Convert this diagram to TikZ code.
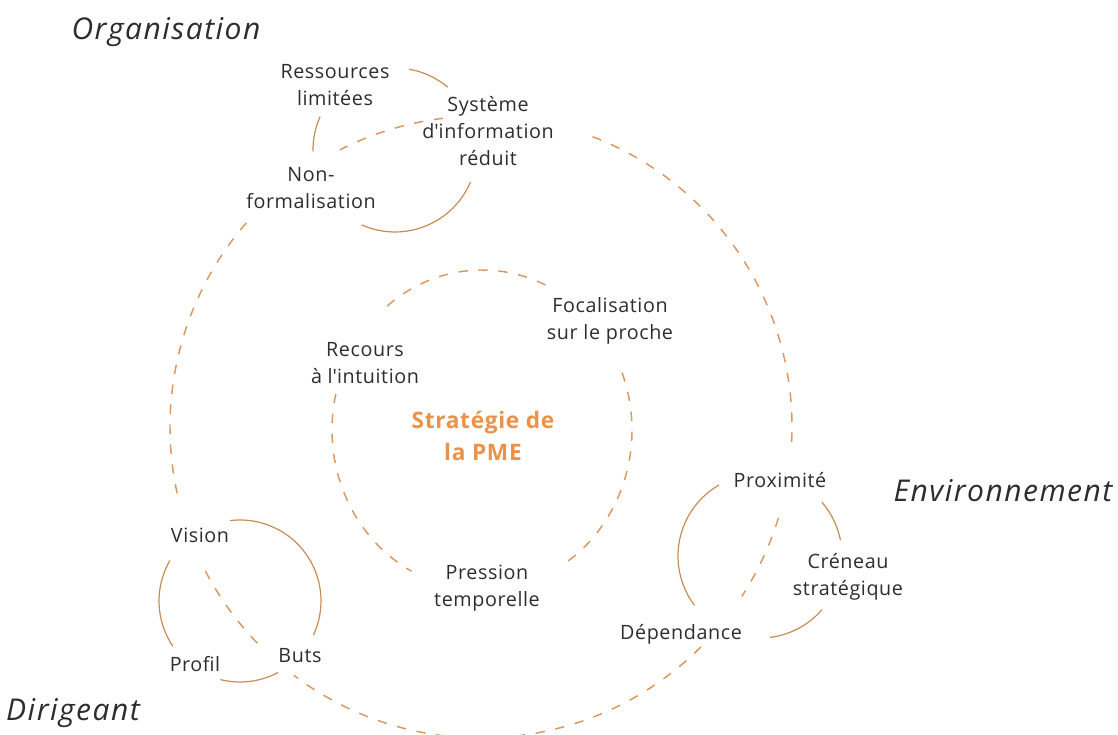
\documentclass[tikz,border=0pt]{standalone}
\usepackage{fontspec}
\setmainfont{Open Sans}[LetterSpace=3]
\newfontfamily\headfont{Open Sans}[LetterSpace=5]
\definecolor{txt}{RGB}{45,45,45}
\definecolor{accent}{RGB}{234,146,72}
\definecolor{dashc}{RGB}{218,152,96}
\definecolor{solidc}{RGB}{200,140,85}
\tikzset{
  lbl/.style={font=\fontsize{14.8}{20}\selectfont, text=txt, align=center, inner sep=0pt},
  head/.style={font=\headfont\fontsize{22.5}{26}\selectfont\itshape, text=txt, inner sep=0pt},
  core/.style={font=\fontsize{17}{24}\selectfont\bfseries, text=accent, align=center, inner sep=0pt},
  ring/.style={draw=dashc, line width=1.1pt, dash pattern=on 7pt off 8pt},
  link/.style={draw=solidc, line width=0.9pt}
}
\begin{document}
\begin{tikzpicture}[x=0.75pt,y=0.75pt]
\useasboundingbox (0,0) rectangle (1118,735);
\clip (0,0) rectangle (1118,735);

% circle centres
\coordinate (big) at (481,308);
\coordinate (mid) at (482,305);
\coordinate (orgc) at (395,585);
\coordinate (dirc) at (240,134);
\coordinate (envc) at (760,179);

% group headings
\node[head] (organisation) at (166,703) {Organisation};
\node[head] (environnement) at (1003,244) {Environnement};
\node[head] (dirigeant) at (73,22) {Dirigeant};

% organisation cluster
\node[lbl] (ress) at (335,650) {Ressources\\limitées};
\node[lbl] (sys) at (488,604) {Système\\d\textquotesingle information\\réduit};
\node[lbl] (nonf) at (311,547) {Non-\\formalisation};

% core
\node[lbl] (recours) at (365,372) {Recours\\à l\textquotesingle intuition};
\node[lbl] (focal) at (610,414) {Focalisation\\sur le proche};
\node[core] (strat) at (483,299) {Stratégie de\\la PME};
\node[lbl] (pression) at (487,147) {Pression\\temporelle};

% environment cluster
\node[lbl] (prox) at (780,255) {Proximité};
\node[lbl] (creneau) at (848,158) {Créneau\\stratégique};
\node[lbl] (dep) at (681,101) {Dépendance};

% owner cluster
\node[lbl] (vision) at (200,200) {Vision};
\node[lbl] (profil) at (195,71) {Profil};
\node[lbl] (buts) at (300,79) {Buts};

% large dashed ring joining the three clusters
\draw[ring] ([shift={(97:311)}]big) arc[start angle=97, end angle=117, radius=311];
\draw[ring] ([shift={(69:311)}]big) arc[start angle=69, end angle=-4, radius=311];
\draw[ring] ([shift={(-17:311)}]big) arc[start angle=-17, end angle=-33, radius=311];
\draw[ring] ([shift={(-45:311)}]big) arc[start angle=-45, end angle=-127, radius=311];
\draw[ring] ([shift={(-136:311)}]big) arc[start angle=-136, end angle=-154, radius=311];
\draw[ring] ([shift={(139:311)}]big) arc[start angle=139, end angle=194, radius=311];

% inner dashed ring round the strategy
\draw[ring] ([shift={({150*cos(65)},{160*sin(65)})}]mid) arc[start angle=65, end angle=133, x radius=150, y radius=160];
\draw[ring] ([shift={({150*cos(21)},{160*sin(21)})}]mid) arc[start angle=21, end angle=-56, x radius=150, y radius=160];
\draw[ring] ([shift={({150*cos(167)},{160*sin(167)})}]mid) arc[start angle=167, end angle=242, x radius=150, y radius=160];

% organisation links
\draw[link] ([shift={(80:82)}]orgc) arc[start angle=80, end angle=50, radius=82];
\draw[link] ([shift={(156:82)}]orgc) arc[start angle=156, end angle=181, radius=82];
\draw[link] ([shift={(-23:82)}]orgc) arc[start angle=-23, end angle=-114, radius=82];

% owner links
\draw[link] ([shift={(97:81)}]dirc) arc[start angle=97, end angle=-25, radius=81];
\draw[link] ([shift={(150:81)}]dirc) arc[start angle=150, end angle=214, radius=81];
\draw[link] ([shift={(-104:81)}]dirc) arc[start angle=-104, end angle=-62, radius=81];

% environment links
\draw[link] ([shift={(120:82)}]envc) arc[start angle=120, end angle=217, radius=82];
\draw[link] ([shift={(41:82)}]envc) arc[start angle=41, end angle=11, radius=82];
\draw[link] ([shift={(-41:82)}]envc) arc[start angle=-41, end angle=-83, radius=82];
\end{tikzpicture}
\end{document}
